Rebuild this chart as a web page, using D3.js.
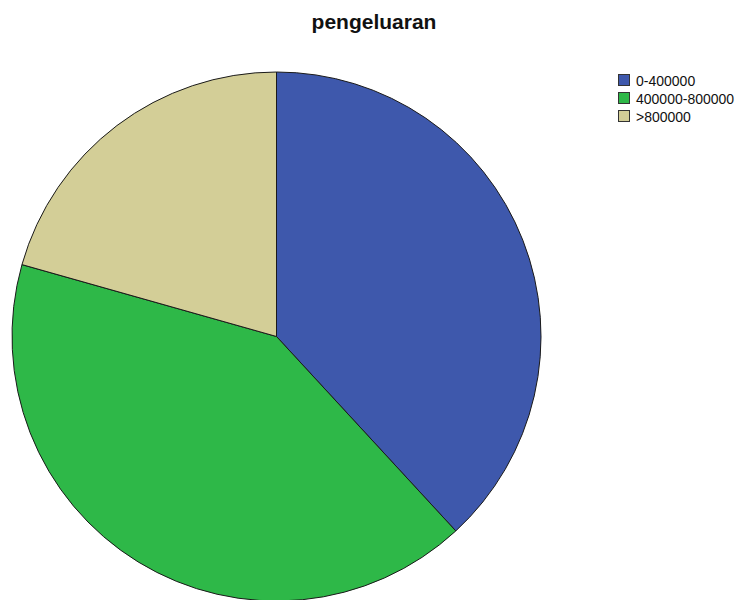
<!DOCTYPE html>
<html>
<head>
<meta charset="utf-8">
<script src="https://cdn.jsdelivr.net/npm/d3@7"></script>
<style>
html, body { margin: 0; padding: 0; background: #fff; }
svg { display: block; }
</style>
</head>
<body>
<svg id="chart" width="741" height="600"></svg>
<script>
const categories = ["0-400000", "400000-800000", ">800000"];
const counts = [37, 40, 20];
const colors = ["#3E58AC", "#2EB848", "#D3CE97"];
const title = "pengeluaran";

const svg = d3.select("#chart");
const W = 741, H = 600;
const cx = 276.5, cy = 336.5, R = 264.5;

const data = categories.map((c, i) => ({ cat: c, value: counts[i] }));
const color = d3.scaleOrdinal().domain(categories).range(colors);

const pie = d3.pie().value(d => d.value).sort(null).startAngle(0).endAngle(2 * Math.PI);
const arc = d3.arc().innerRadius(0).outerRadius(R);

svg.append("g")
  .attr("transform", `translate(${cx},${cy})`)
  .selectAll("path")
  .data(pie(data))
  .join("path")
  .attr("d", arc)
  .attr("fill", d => color(d.data.cat))
  .attr("stroke", "#1a1a1a")
  .attr("stroke-width", 1)
  .attr("stroke-linejoin", "round");

svg.append("text")
  .attr("x", 374)
  .attr("y", 29)
  .attr("text-anchor", "middle")
  .attr("font-family", "Liberation Sans, Arial, sans-serif")
  .attr("font-weight", "bold")
  .attr("font-size", 21)
  .attr("fill", "#111")
  .text(title);

const legend = svg.append("g").attr("transform", "translate(618,74)");
const rowH = 18;
const items = legend.selectAll("g").data(categories).join("g")
  .attr("transform", (d, i) => `translate(0,${i * rowH})`);
items.append("rect")
  .attr("x", 0.5).attr("y", 0.5)
  .attr("width", 11).attr("height", 11)
  .attr("fill", d => color(d))
  .attr("stroke", "#333")
  .attr("stroke-width", 1);
items.append("text")
  .attr("x", 18)
  .attr("y", 11.5)
  .attr("font-family", "Liberation Sans, Arial, sans-serif")
  .attr("font-size", 14)
  .attr("fill", "#111")
  .text(d => d);
</script>
</body>
</html>
